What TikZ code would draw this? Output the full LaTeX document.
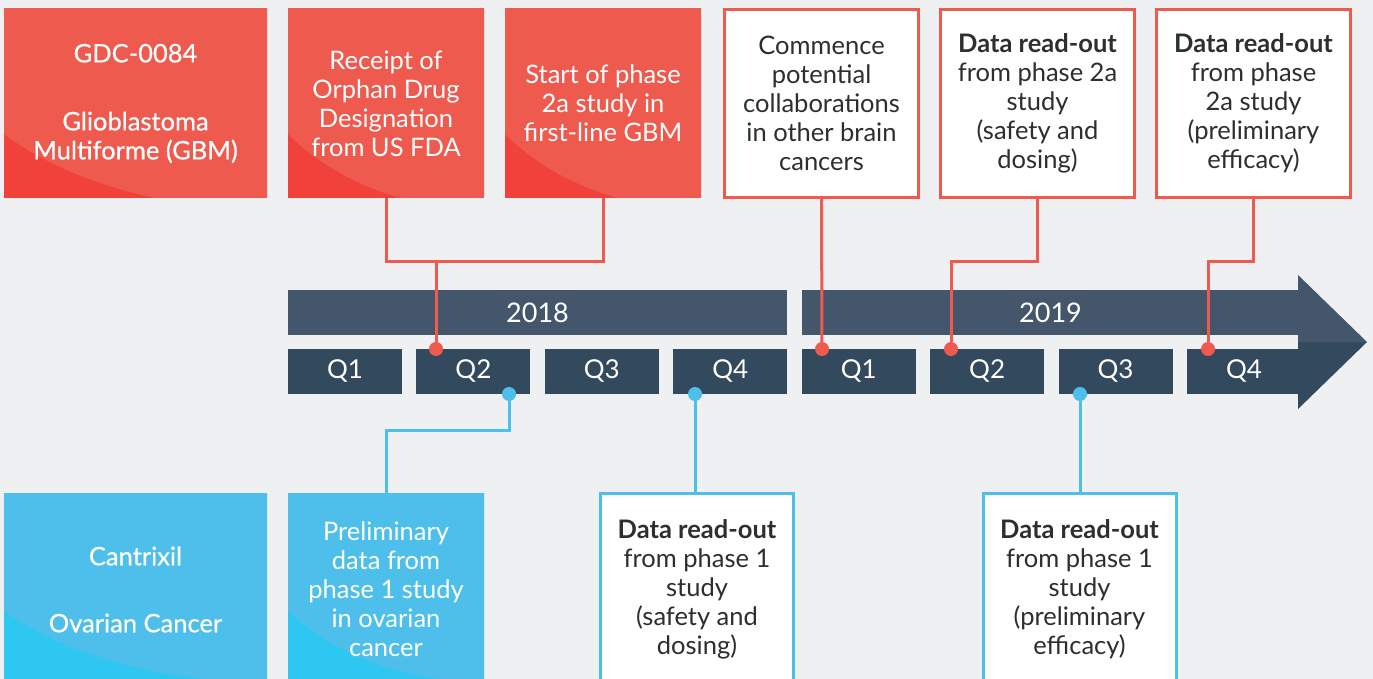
\documentclass[tikz,border=0pt]{standalone}
\usepackage{fontspec}
\setmainfont{Lato}
\newfontfamily\medfont[FakeBold=0.6]{Lato}
\usetikzlibrary{calc}
\definecolor{redfill}{HTML}{EE5A4E}
\definecolor{reddeep}{HTML}{F0423A}
\definecolor{bluefill}{HTML}{4DBFEA}
\definecolor{bluedeep}{HTML}{2EC7F1}
\definecolor{barcol}{HTML}{43566B}
\definecolor{qcol}{HTML}{33495E}
\definecolor{txtcol}{HTML}{2E2E2E}
\definecolor{bgcol}{HTML}{EEF0F2}

\begin{document}
\begin{tikzpicture}[x=1pt,y=-1pt,font=\fontsize{25.5}{29}\selectfont] %% pixel grid
	\tikzstyle{card}=[align=center,inner sep=0pt,minimum width=196pt];
	\tikzstyle{redcard}=[card,fill=reddeep,text=white,minimum height=189pt,
		path picture={\fill[redfill] let \p1=($(path picture bounding box.north east)-(path picture bounding box.south west)$) in
			(path picture bounding box.north east) ellipse ({1.28*\x1} and {1.06*\y1});}];
	\tikzstyle{bluecard}=[card,fill=bluedeep,text=white,minimum height=193pt,
		path picture={\fill[bluefill] let \p1=($(path picture bounding box.north east)-(path picture bounding box.south west)$) in
			(path picture bounding box.north east) ellipse ({1.28*\x1} and {0.98*\y1});}];
	\tikzstyle{redframe}=[card,draw=redfill,line width=3pt,fill=white,text=txtcol,minimum width=194pt,minimum height=188pt];
	\tikzstyle{blueframe}=[card,draw=bluefill,line width=3pt,fill=white,text=txtcol,minimum width=193pt,minimum height=192pt];
	\tikzstyle{yearbar}=[fill=barcol,text=white,inner sep=0pt,minimum height=45pt,font=\fontsize{27}{30}\selectfont];
	\tikzstyle{quarter}=[fill=qcol,text=white,inner sep=0pt,minimum width=114pt,minimum height=45pt,font=\fontsize{26}{29}\selectfont];
	\tikzstyle{redline}=[draw=redfill,line width=3pt];
	\tikzstyle{blueline}=[draw=bluefill,line width=3pt];
	\tikzstyle{reddot}=[circle,fill=redfill,inner sep=0pt,minimum size=14pt];
	\tikzstyle{bluedot}=[circle,fill=bluefill,inner sep=0pt,minimum size=14pt];
	\useasboundingbox (0,0) rectangle (1373,679);
	\clip (0,0) rectangle (1373,679);
	\fill[bgcol] (0,0) rectangle (1373,679);
	%% GDC-0084 milestones
	\node[redcard,minimum width=263pt,font=\fontsize{25.5}{29}\medfont] (gdc) at (135.5,103.5) {GDC-0084\\[39pt]Glioblastoma\\Multiforme (GBM)};
	\node[redcard] (orphan) at (386,103.5) {Receipt of\\Orphan Drug\\Designation\\from US FDA};
	\node[redcard] (phase2a) at (603,103.5) {Start of phase\\2a study in\\first-line GBM};
	\node[redframe] (commence) at (821.5,103.5) {Commence\\potential\\collaborations\\in other brain\\cancers};
	\node[redframe] (safety2a) at (1037.5,103.5) {\textbf{Data read-out}\\from phase 2a\\study\\(safety and\\dosing)};
	\node[redframe] (efficacy2a) at (1253.5,103.5) {\textbf{Data read-out}\\from phase\\2a study\\(preliminary\\efficacy)};
	%% Cantrixil milestones
	\node[bluecard,minimum width=263pt,font=\fontsize{25.5}{29}\medfont] (cantrixil) at (135.5,589.5) {Cantrixil\\[38pt]Ovarian Cancer};
	\node[bluecard] (prelim) at (386,589.5) {Preliminary\\data from\\phase 1 study\\in ovarian\\cancer};
	\node[blueframe] (safety1) at (697,589.5) {\textbf{Data read-out}\\from phase 1\\study\\(safety and\\dosing)};
	\node[blueframe] (efficacy1) at (1079.5,589.5) {\textbf{Data read-out}\\from phase 1\\study\\(preliminary\\efficacy)};
	%% timeline
	\node[yearbar,minimum width=499pt] (y18) at (537.5,312.5) {2018};
	\node[yearbar,minimum width=497pt] (y19) at (1050.5,312.5) {2019};
	\fill[barcol] (1298,275) -- (1367,342) -- (1298,342) -- cycle;
	\fill[qcol] (1298,342) -- (1367,342) -- (1298,409) -- cycle;
	\foreach \i/\q in {0/Q1,1/Q2,2/Q3,3/Q4,4/Q1,5/Q2,6/Q3,7/Q4}
		\node[quarter] (q\i) at ({345+128.43*\i},371.5) {\q};
	%% red connectors
	\node[reddot] (r1) at (436,349) {};
	\node[reddot] (r2) at (822,349) {};
	\node[reddot] (r3) at (951,349) {};
	\node[reddot] (r4) at (1208,349) {};
	\draw[redline] (orphan.south) -- ++(0,63) coordinate (fork) -| (phase2a.south);
	\draw[redline] (r1) -- (r1 |- fork);
	\draw[redline] (commence.south) -- (r2);
	\draw[redline] (safety2a.south) -- ++(0,62) -| (r3);
	\draw[redline] (efficacy2a.south) -- ++(0,62) -| (r4);
	%% blue connectors
	\node[bluedot] (b1) at (509,394) {};
	\node[bluedot] (b2) at (695,394) {};
	\node[bluedot] (b3) at (1080,394) {};
	\draw[blueline] (b1) -- ++(0,36) -| (prelim.north);
	\draw[blueline] (b2) -- (b2 |- safety1.north);
	\draw[blueline] (b3) -- (b3 |- efficacy1.north);
\end{tikzpicture}
\end{document}
